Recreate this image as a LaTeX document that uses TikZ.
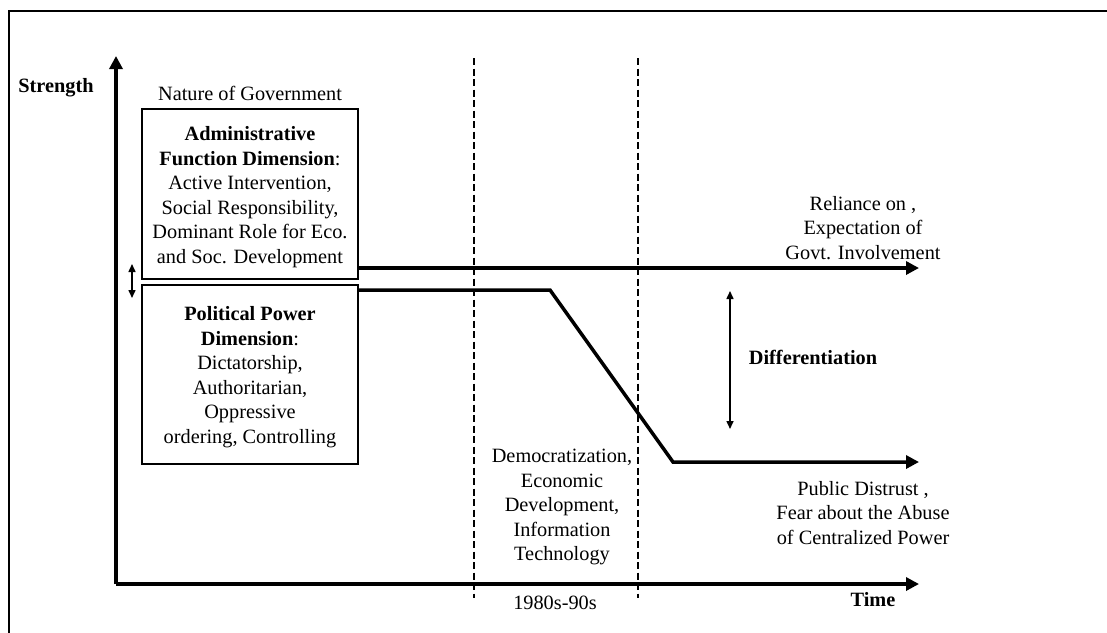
\documentclass[tikz,border=0pt]{standalone}
\usepackage{fontspec}
\setmainfont{Liberation Serif}
\usetikzlibrary{arrows.meta}
\begin{document}
\begin{tikzpicture}[x=1pt,y=-1pt,
  every node/.style={inner sep=0pt,outer sep=0pt,font=\fontsize{20.3}{24.5}\selectfont},
  axisline/.style={line width=3.5pt,-{Triangle[length=13pt,width=13pt]}},
  trendline/.style={line width=3.5pt,line join=miter,-{Triangle[length=13pt,width=13pt]}},
  dimbox/.style={draw,line width=1.5pt,minimum width=216pt,align=center},
  guide/.style={line width=1.3pt,dash pattern=on 7pt off 3.5pt},
  twoway/.style={line width=1.5pt,{Triangle[length=8pt,width=7pt]}-{Triangle[length=8pt,width=7pt]}},
  frameline/.style={line width=1.5pt}]
\useasboundingbox (0,0) rectangle (1107,632);
% outer frame (only top and left edges visible)
\coordinate (fbl) at (9,640);
\coordinate (ftl) at (9,11);
\coordinate (ftr) at (1115,11);
\draw[frameline] (fbl) -- (ftl) -- (ftr);
% guides
\coordinate (g1t) at (474,58);
\coordinate (g1b) at (474,598);
\coordinate (g2t) at (638,58);
\coordinate (g2b) at (638,598);
\draw[guide] (g1t) -- (g1b);
\draw[guide] (g2t) -- (g2b);
% axes
\coordinate (origin) at (116,584);
\coordinate (ytip) at (116,56);
\coordinate (xtip) at (919,584);
\draw[axisline] (origin) -- (ytip);
\draw[axisline] (origin) -- (xtip);
\node[font=\fontsize{20.3}{24.5}\selectfont\bfseries] (strength) at (56,88) {Strength};
\node[font=\fontsize{20.3}{24.5}\selectfont\bfseries] (time) at (873,600) {Time};
\node (nature) at (250,93) {Nature of Government};
% boxes
\node[dimbox,minimum height=170pt] (box1) at (250,194) {};
\node[align=center] (box1t) at (250,197) {\textbf{Administrative}\\\textbf{Function Dimension}:\\Active Intervention,\\Social Responsibility,\\Dominant Role for Eco.\\and Soc. Development};
\node[dimbox,minimum height=179pt] (box2) at (250,374.5) {};
\node[align=center] (box2t) at (250,377) {\textbf{Political Power}\\\textbf{Dimension}:\\Dictatorship,\\Authoritarian,\\Oppressive\\ordering, Controlling};
% small double arrow
\coordinate (sa1) at (132,264);
\coordinate (sa2) at (132,298);
\draw[twoway] (sa1) -- (sa2);
% trend lines
\coordinate (topend) at (919,268);
\draw[trendline] ([yshift=11pt]box1.south east) -- (topend);
\coordinate (bk1) at (550,290);
\coordinate (bk2) at (673,462);
\coordinate (botend) at (919,462);
\draw[trendline] ([yshift=-5pt]box2.north east) -- (bk1) -- (bk2) -- (botend);
% differentiation
\coordinate (d1) at (730,291);
\coordinate (d2) at (730,429);
\draw[twoway] (d1) -- (d2);
\node[font=\fontsize{20.3}{24.5}\selectfont\bfseries] (diff) at (813,357) {Differentiation};
% right labels
\node[align=center] (reliance) at (863,228) {Reliance on ,\\Expectation of\\Govt. Involvement};
\node[align=center] (distrust) at (863,513) {Public Distrust ,\\Fear about the Abuse\\of Centralized Power};
% period labels
\node[align=center] (drivers) at (562,507) {Democratization,\\Economic\\Development,\\Information\\Technology};
\node (period) at (555,603) {1980s-90s};
\end{tikzpicture}
\end{document}
